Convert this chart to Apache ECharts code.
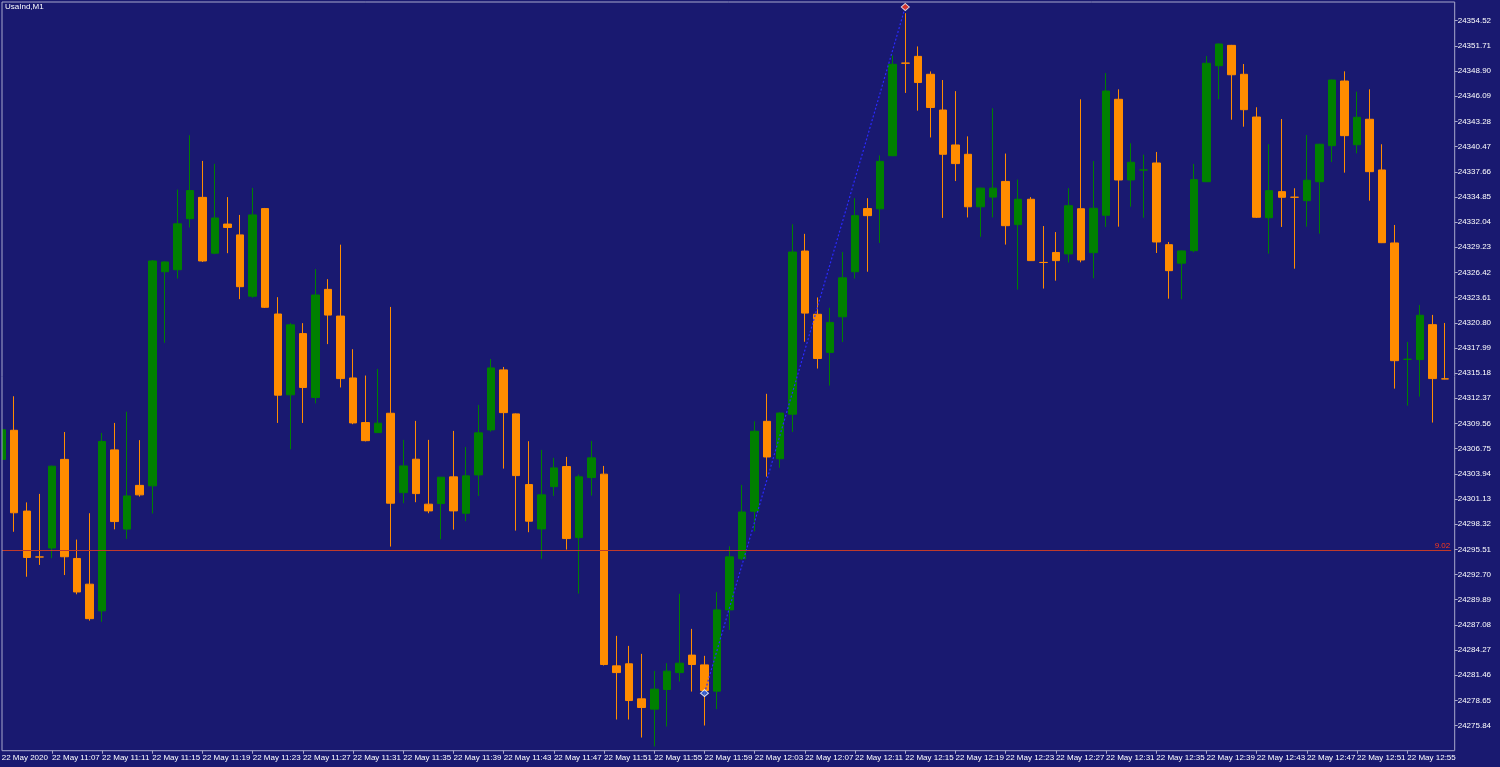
<!DOCTYPE html>
<html>
<head>
<meta charset="utf-8">
<script src="https://cdn.jsdelivr.net/npm/echarts@6/dist/echarts.min.js"></script>
<style>
html,body{margin:0;padding:0;background:#191970;}
#chart{width:1500px;height:767px;}
</style>
</head>
<body>
<div id="chart"></div>
<script>
// ---- data ----
const symbolTitle = 'UsaInd,M1';
const dayLabel = '22 May';
const firstLabel = '22 May 2020';
const categories = [
'11:03','11:04','11:05','11:06','11:07','11:08','11:09','11:10','11:11','11:12','11:13','11:14','11:15','11:16','11:17','11:18','11:19','11:20','11:21','11:22','11:23','11:24','11:25','11:26','11:27','11:28','11:29','11:30','11:31','11:32','11:33','11:34','11:35','11:36','11:37','11:38','11:39','11:40','11:41','11:42','11:43','11:44','11:45','11:46','11:47','11:48','11:49','11:50','11:51','11:52','11:53','11:54','11:55','11:56','11:57','11:58','11:59',
'12:00','12:01','12:02','12:03','12:04','12:05','12:06','12:07','12:08','12:09','12:10','12:11','12:12','12:13','12:14','12:15','12:16','12:17','12:18','12:19','12:20','12:21','12:22','12:23','12:24','12:25','12:26','12:27','12:28','12:29','12:30','12:31','12:32','12:33','12:34','12:35','12:36','12:37','12:38','12:39','12:40','12:41','12:42','12:43','12:44','12:45','12:46','12:47','12:48','12:49','12:50','12:51','12:52','12:53','12:54','12:55','12:56','12:57','12:58'
];
const opens = [
24305.55,24308.80,24299.78,24294.66,24295.66,24305.55,24294.49,24291.62,24288.64,24306.61,
24297.77,24302.65,24302.60,24326.50,24326.72,24332.42,24334.80,24328.57,24331.82,24330.61,
24323.77,24333.55,24321.78,24312.76,24319.59,24312.46,24324.53,24321.55,24314.64,24309.66,
24308.54,24310.70,24301.84,24305.57,24300.55,24300.62,24303.60,24299.54,24303.82,24308.84,
24315.54,24310.63,24302.74,24297.79,24302.51,24304.75,24296.82,24303.52,24303.90,24282.50,
24282.73,24278.82,24277.67,24279.86,24281.75,24283.70,24282.61,24279.68,24288.75,24294.46,
24299.76,24309.80,24305.62,24310.59,24328.81,24321.75,24317.49,24321.47,24326.50,24333.55,
24333.52,24339.45,24349.79,24350.54,24348.54,24344.55,24340.65,24339.61,24333.75,24334.83,
24336.58,24331.76,24334.59,24327.54,24328.65,24328.49,24333.53,24328.63,24332.80,24345.75,
24336.74,24337.85,24338.64,24329.52,24327.45,24328.85,24336.55,24349.50,24351.77,24348.54,
24343.77,24332.53,24335.44,24334.82,24334.43,24336.55,24340.57,24347.79,24340.68,24343.52,
24337.86,24329.71,24316.72,24316.69,24320.59,24314.54
];
const closes = [
24308.87,24299.59,24294.60,24294.65,24304.79,24294.68,24290.75,24287.77,24307.55,24298.61,
24301.47,24301.59,24327.70,24327.59,24331.85,24335.56,24327.70,24332.50,24331.44,24324.83,
24332.84,24322.53,24312.72,24320.57,24313.58,24323.90,24321.66,24314.57,24309.62,24307.64,
24309.59,24300.66,24304.82,24301.73,24299.80,24303.56,24299.80,24303.71,24308.51,24315.76,
24310.77,24303.74,24298.65,24301.59,24304.60,24296.71,24303.60,24305.72,24282.65,24281.75,
24278.63,24277.85,24279.90,24281.91,24282.80,24282.65,24279.75,24288.75,24294.67,24299.68,
24308.69,24305.82,24310.72,24328.70,24321.88,24316.81,24320.84,24325.82,24332.76,24332.76,
24338.82,24349.65,24349.78,24347.62,24344.83,24339.61,24338.57,24333.75,24335.83,24335.83,
24331.64,24334.59,24327.74,24327.53,24327.74,24333.87,24327.81,24333.58,24346.67,24336.74,
24338.72,24337.86,24329.82,24326.62,24328.82,24336.78,24349.77,24351.92,24348.49,24344.59,
24332.58,24335.55,24334.81,24334.81,24336.71,24340.73,24347.90,24341.69,24343.74,24337.67,
24329.74,24316.57,24316.73,24321.64,24314.57,24314.53
];
const lows = [
24305.27,24297.47,24292.45,24293.77,24294.52,24292.64,24290.49,24287.55,24287.42,24297.74,
24296.68,24301.40,24299.51,24318.57,24325.74,24331.44,24327.59,24328.46,24328.57,24323.44,
24323.60,24322.45,24309.62,24306.68,24309.62,24311.81,24318.42,24313.58,24309.48,24307.56,
24308.51,24295.82,24300.66,24300.77,24299.54,24296.64,24297.71,24298.65,24301.47,24308.65,
24304.52,24297.60,24297.42,24294.44,24301.47,24295.48,24290.57,24301.51,24282.54,24276.51,
24276.51,24274.50,24273.50,24275.73,24280.75,24279.63,24275.84,24277.67,24286.52,24294.33,
24297.52,24303.62,24304.61,24308.61,24318.68,24315.69,24313.79,24318.65,24325.74,24326.50,
24329.72,24339.40,24346.46,24344.48,24341.49,24332.51,24336.62,24332.56,24330.40,24332.56,
24329.53,24324.51,24327.70,24324.62,24325.50,24327.53,24327.55,24325.77,24331.50,24331.53,
24333.76,24332.53,24328.59,24323.49,24323.43,24328.67,24336.50,24345.75,24343.47,24342.69,
24332.50,24328.52,24331.50,24326.84,24331.53,24330.75,24338.75,24337.56,24339.72,24334.43,
24329.70,24313.45,24311.55,24312.56,24309.66,24314.50
];
const highs = [
24309.18,24312.60,24300.75,24301.70,24304.85,24308.61,24296.60,24299.54,24308.50,24309.62,
24310.87,24307.70,24327.81,24327.65,24335.67,24341.74,24338.87,24338.54,24334.83,24332.84,
24335.86,24333.62,24323.66,24320.76,24320.76,24326.80,24325.67,24329.52,24317.85,24314.91,
24315.65,24322.57,24307.73,24309.85,24307.73,24303.59,24308.73,24306.94,24311.63,24316.76,
24315.87,24310.68,24307.58,24306.61,24305.72,24305.83,24303.85,24307.61,24304.82,24285.85,
24284.73,24283.84,24281.94,24282.80,24290.54,24286.63,24283.62,24290.73,24295.85,24302.70,
24309.80,24312.87,24310.79,24331.80,24330.73,24323.63,24322.47,24328.70,24334.71,24334.71,
24339.49,24350.65,24355.36,24351.65,24348.86,24347.90,24346.66,24341.61,24335.88,24344.75,
24339.69,24336.79,24334.83,24331.60,24330.93,24335.83,24345.75,24338.86,24348.68,24346.86,
24340.84,24339.57,24339.87,24329.82,24328.87,24338.53,24350.58,24351.97,24351.82,24349.69,
24344.86,24340.73,24343.55,24335.82,24341.76,24340.78,24347.95,24348.87,24346.60,24346.86,
24340.73,24331.72,24318.66,24322.79,24321.68,24320.78
];
// price axis ticks (MT4 style step)
const yTickMin = 24273.03;
const yTickStep = 2.81;
const yMax = 24356.61;
// horizontal line object and its text
const hLinePrice = 24295.37;
const hLineText = '9.02';
// swing markers (low -> high) joined by a dotted line
const swingIdx = [56, 72];
const swingPrice = [24279.45, 24356.05];

// ---- chart ----
const bg = '#191970';
const frameColor = '#A8A8CC';
const upColor = '#008000';
const downColor = '#FF8C00';
const font = 'Liberation Sans';

const candleData = categories.map((_, i) => [opens[i], closes[i], lows[i], highs[i]]);
const swingLine = swingIdx.map((idx, i) => [idx, swingPrice[i]]);

const chart = echarts.init(document.getElementById('chart'), null, {renderer: 'canvas'});
chart.setOption({
  animation: false,
  backgroundColor: bg,
  grid: {left: -4.575, right: 48.8, top: 2, bottom: 16.3, containLabel: false, outerBoundsMode: 'none'},
  xAxis: {
    type: 'category',
    data: categories,
    boundaryGap: true,
    axisLine: {show: false},
    axisTick: {show: true, alignWithLabel: true, interval: 3, length: 3, lineStyle: {color: frameColor}},
    axisLabel: {
      interval: 3, color: '#FFFFFF', fontSize: 8, fontFamily: font, align: 'left', margin: 3,
      formatter: (v, i) => i === 0 ? firstLabel : dayLabel + ' ' + v
    },
    splitLine: {show: false}
  },
  yAxis: {
    type: 'value',
    position: 'right',
    offset: 3.5,
    min: yTickMin,
    max: yMax,
    interval: yTickStep,
    axisLine: {show: false},
    axisTick: {show: true, length: 3, lineStyle: {color: frameColor}},
    axisLabel: {
      color: '#FFFFFF', fontSize: 8, fontFamily: font, margin: 3,
      showMinLabel: false, showMaxLabel: false,
      formatter: v => v.toFixed(2)
    },
    splitLine: {show: false}
  },
  series: [
    {
      type: 'candlestick',
      data: candleData,
      barWidth: 8,
      itemStyle: {
        color: upColor, color0: downColor,
        borderColor: upColor, borderColor0: downColor, borderWidth: 1
      },
      markLine: {
        silent: true,
        symbol: ['none', 'none'],
        lineStyle: {color: '#C03A2A', width: 1, type: 'solid'},
        label: {show: true, position: 'insideEndTop', formatter: hLineText, color: '#FF3A1A', fontSize: 8, fontFamily: font, distance: 1},
        data: [{yAxis: hLinePrice}]
      },
      z: 3
    },
    {
      type: 'line',
      data: swingLine,
      symbol: 'none',
      lineStyle: {color: '#2A2AFF', width: 1.2, type: [2, 2]},
      z: 4
    },
    {
      type: 'scatter',
      data: [swingLine[0]],
      symbol: 'diamond',
      symbolSize: [8, 7],
      itemStyle: {color: '#3A6AE0', borderColor: '#FFFFFF', borderWidth: 1},
      z: 5
    },
    {
      type: 'scatter',
      data: [swingLine[1]],
      symbol: 'diamond',
      symbolSize: [8, 7],
      itemStyle: {color: '#FF3A1A', borderColor: '#FFFFFF', borderWidth: 1},
      z: 5
    }
  ],
  graphic: [
    {type: 'rect', z: 100, silent: true, shape: {x: 0, y: 0, width: 2, height: 767}, style: {fill: bg}},
    {type: 'rect', z: 101, silent: true, shape: {x: 2, y: 2, width: 1452.7, height: 748.7}, style: {fill: 'none', stroke: frameColor, lineWidth: 1}},
    {type: 'text', z: 102, left: 5, top: 3, silent: true, style: {text: symbolTitle, fill: '#FFFFFF', font: '8px "Liberation Sans"'}}
  ]
});
</script>
</body>
</html>
